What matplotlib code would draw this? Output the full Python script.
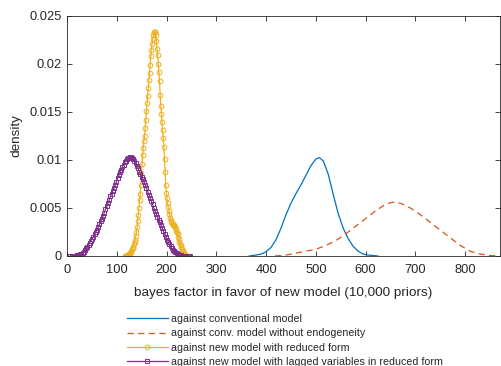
import matplotlib
matplotlib.use("Agg")
import matplotlib.pyplot as plt
import numpy as np

plt.rcParams['font.family'] = ['Liberation Sans', 'DejaVu Sans']

# Kernel density estimates of the Bayes factor (10,000 prior draws)
conv_x = [366, 380, 390, 400, 410, 420, 430, 440, 450, 460, 470, 480, 490, 500, 507,
          515, 525, 535, 545, 555, 565, 575, 585, 595, 605, 625]
conv_y = [0.0, 0.0001, 0.0002, 0.00045, 0.0009, 0.0017, 0.0029, 0.0043, 0.0055, 0.0065,
          0.0074, 0.0084, 0.0094, 0.0101, 0.01025, 0.0099, 0.0085, 0.0064, 0.0044, 0.0029,
          0.0018, 0.0010, 0.0005, 0.0002, 0.0001, 0.0]

noendo_x = [418, 440, 460, 480, 500, 520, 540, 560, 580, 600, 620, 640, 655, 670, 690,
            710, 730, 750, 770, 790, 810, 830, 850, 870]
noendo_y = [0.0, 0.0001, 0.0003, 0.0005, 0.0007, 0.0011, 0.0016, 0.0023, 0.0031, 0.0039,
            0.0047, 0.0054, 0.0056, 0.0055, 0.0050, 0.0043, 0.0035, 0.0027, 0.0019, 0.0011,
            0.0005, 0.0002, 0.00005, 0.0]

# 100-point evaluation grids of the density estimates
reduced_x = np.linspace(117, 241, 100)
reduced_y = [0.0, 0.00002, 0.00004, 0.00006, 0.0001, 0.00013, 0.00017, 0.00024, 0.00032, 0.00042,
             0.00055, 0.0007, 0.0008, 0.00095, 0.0012, 0.00145, 0.0017, 0.0021, 0.0025, 0.0030,
             0.0036, 0.0043, 0.0050, 0.0058, 0.0065, 0.0074, 0.0086, 0.0096, 0.0105, 0.0113,
             0.0120, 0.0125, 0.0133, 0.0142, 0.0151, 0.0159, 0.0167, 0.0175, 0.0183, 0.0191,
             0.0199, 0.0208, 0.0215, 0.0221, 0.0226, 0.0230, 0.0233, 0.02338, 0.0233, 0.0230,
             0.0224, 0.0216, 0.0209, 0.0200, 0.0192, 0.0182, 0.0168, 0.0156, 0.0148, 0.0140,
             0.0131, 0.0123, 0.0114, 0.0101, 0.0088, 0.0074, 0.0066, 0.0060, 0.0055, 0.0051,
             0.0047, 0.0044, 0.0040, 0.0037, 0.0035, 0.0034, 0.0033, 0.00325, 0.0032, 0.0031,
             0.0030, 0.0028, 0.0026, 0.0025, 0.0023, 0.0020, 0.0018, 0.0015, 0.0013, 0.0011,
             0.0009, 0.0007, 0.0005, 0.0004, 0.0003, 0.0002, 0.0001, 0.00006, 0.00003, 0.0]

lagged_x = np.linspace(7, 247, 100)
lagged_y = [0.0, 0.00001, 0.00002, 0.00003, 0.00004, 0.00006, 0.00008, 0.00011, 0.00016, 0.00022,
            0.0003, 0.00045, 0.00063, 0.0008, 0.00098, 0.00118, 0.0014, 0.0016, 0.0018, 0.0020,
            0.00225, 0.0025, 0.0027, 0.0030, 0.0033, 0.0036, 0.0039, 0.0042, 0.0045, 0.0049,
            0.0052, 0.0055, 0.0058, 0.0062, 0.0065, 0.0068, 0.0071, 0.0074, 0.0077, 0.0081,
            0.0084, 0.0087, 0.0090, 0.0093, 0.0095, 0.0098, 0.0099, 0.0101, 0.0102, 0.01027,
            0.01028, 0.0102, 0.0101, 0.0099, 0.0097, 0.0094, 0.0092, 0.0088, 0.0085, 0.0082,
            0.0080, 0.0077, 0.0074, 0.0071, 0.0067, 0.0064, 0.0060, 0.0057, 0.0054, 0.0050,
            0.0047, 0.0044, 0.0041, 0.0038, 0.0035, 0.0032, 0.0029, 0.0026, 0.0023, 0.0020,
            0.0017, 0.0015, 0.0012, 0.0010, 0.0008, 0.00065, 0.0005, 0.0004, 0.0003, 0.00022,
            0.00015, 0.0001, 0.00007, 0.00005, 0.00003, 0.00002, 0.00001, 0.0, 0.0, 0.0]

labels = ["against conventional model",
          "against conv. model without endogeneity",
          "against new model with reduced form",
          "against new model with lagged variables in reduced form"]

x_ticks = [0, 100, 200, 300, 400, 500, 600, 700, 800]
y_ticks = [0, 0.005, 0.01, 0.015, 0.02, 0.025]
y_ticklabels = ["0", "0.005", "0.01", "0.015", "0.02", "0.025"]

colors = ["#0072BD", "#D95319", "#EDB120", "#7E2F8E"]
axis_color = "#262626"

fig = plt.figure(figsize=(5.01, 3.66), dpi=100)
ax = fig.add_axes([67 / 501, 110 / 366, 433 / 501, 240 / 366])

ax.plot(conv_x, conv_y, color=colors[0], lw=0.9, label=labels[0])
ax.plot(noendo_x, noendo_y, color=colors[1], lw=0.9, dashes=(5, 3.5), label=labels[1])
ax.plot(reduced_x, reduced_y, color=colors[2], lw=0.9, marker='o', ms=3.4,
        mfc='none', mew=0.7, label=labels[2])
ax.plot(lagged_x, lagged_y, color=colors[3], lw=0.9, marker='s', ms=3.0,
        mfc='none', mew=0.7, label=labels[3])

ax.set_xlim(0, 870)
ax.set_ylim(0, 0.025)
ax.set_xticks(x_ticks)
ax.set_yticks(y_ticks)
ax.set_yticklabels(y_ticklabels)

ax.tick_params(direction='in', length=3.5, width=0.6, colors=axis_color,
               labelsize=9.3, top=True, right=True)
ax.tick_params(axis='x', pad=6)
ax.tick_params(axis='y', pad=4)
for s in ax.spines.values():
    s.set_color(axis_color)
    s.set_linewidth(0.6)

ax.set_xlabel("bayes factor in favor of new model (10,000 priors)", fontsize=9.7,
              color=axis_color, labelpad=8)
ax.set_ylabel("density", fontsize=9.7, color=axis_color, labelpad=5)

leg = fig.legend(loc='upper left', bbox_to_anchor=(127 / 501, 1 - 314 / 366),
                 frameon=False, fontsize=7.7, handlelength=3.8, handletextpad=0.3,
                 labelspacing=0.4, numpoints=1, borderaxespad=0, borderpad=0)
for t in leg.get_texts():
    t.set_color(axis_color)

fig.savefig("out.png", dpi=100)
